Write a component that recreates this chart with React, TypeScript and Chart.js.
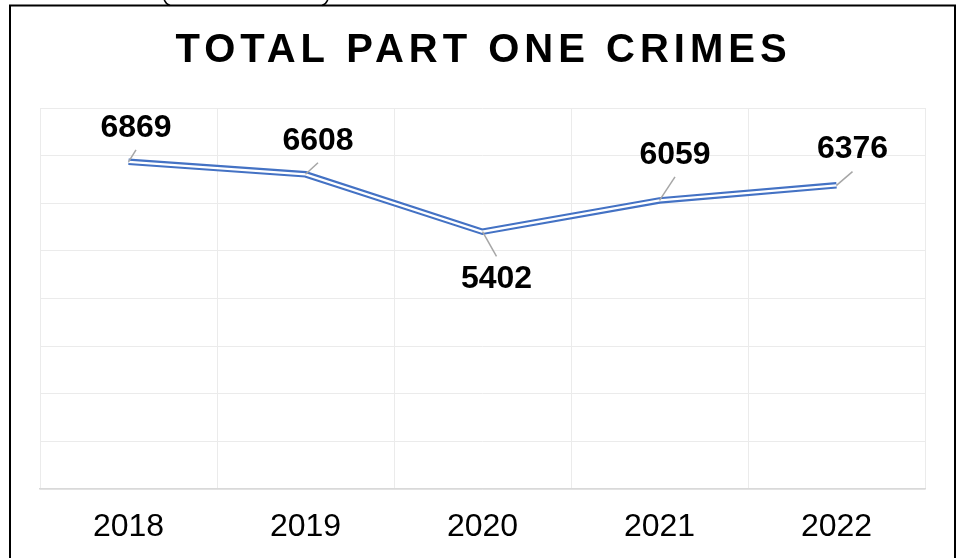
import React, { useEffect, useRef } from "react";
import { Chart, registerables } from "chart.js";

Chart.register(...registerables);

const TITLE = "TOTAL PART ONE CRIMES";
const YEARS = ["2018", "2019", "2020", "2021", "2022"];
const CRIMES = [6869, 6608, 5402, 6059, 6376];
const Y_MIN = 0;
const Y_MAX = 8000;
const Y_STEP = 1000;
// label centre offset from its point (dx, dy), as placed in the original
const LABEL_DX = [7.5, 12.5, 14, 15.5, 16];
const LABEL_DY = [-34, -33.5, 47.7, -45.5, -35.7];

const FONT = "'Liberation Sans', Arial, sans-serif";
const BLUE = "#4472C4";

const framePlugin = {
  id: "frame",
  beforeDraw(chart: any) {
    const ctx = chart.ctx;
    ctx.save();
    ctx.fillStyle = "#ffffff";
    ctx.fillRect(0, 0, chart.width, chart.height);
    ctx.strokeStyle = "#000000";
    ctx.lineWidth = 2;
    ctx.beginPath();
    ctx.moveTo(10, chart.height + 5);
    ctx.lineTo(10, 5.5);
    ctx.lineTo(955, 5.5);
    ctx.lineTo(955, chart.height + 5);
    ctx.stroke();
    // bottom of a rounded shape sitting above the frame
    ctx.lineWidth = 1.5;
    ctx.beginPath();
    ctx.moveTo(164, -1);
    ctx.quadraticCurveTo(165.5, 4, 170, 5.5);
    ctx.moveTo(328, -1);
    ctx.quadraticCurveTo(326.5, 4, 322, 5.5);
    ctx.stroke();
    // title
    ctx.fillStyle = "#000000";
    ctx.font = `bold 40px ${FONT}`;
    (ctx as any).letterSpacing = "5px";
    ctx.textAlign = "center";
    ctx.textBaseline = "middle";
    ctx.fillText(TITLE, 483.5, 51);
    ctx.restore();
  },
};

const labelPlugin = {
  id: "leaderLabels",
  afterDatasetsDraw(chart: any) {
    const ctx = chart.ctx;
    const meta = chart.getDatasetMeta(0);
    const data = chart.data.datasets[0].data as number[];
    ctx.save();
    meta.data.forEach((pt: any, i: number) => {
      const lx = pt.x + LABEL_DX[i];
      const ly = pt.y + LABEL_DY[i];
      const endY = LABEL_DY[i] < 0 ? ly + 22 : ly - 23;
      ctx.strokeStyle = "#a6a6a6";
      ctx.lineWidth = 1.5;
      ctx.beginPath();
      ctx.moveTo(pt.x, pt.y);
      ctx.lineTo(lx, endY);
      ctx.stroke();
      ctx.fillStyle = "#000000";
      ctx.font = `bold 32px ${FONT}`;
      ctx.textAlign = "center";
      ctx.textBaseline = "middle";
      ctx.fillText(String(data[i]), lx, ly);
    });
    ctx.restore();
  },
};

export default function App() {
  const ref = useRef<HTMLCanvasElement | null>(null);
  useEffect(() => {
    if (!ref.current) return;
    const chart = new Chart(ref.current, {
      type: "line",
      data: {
        labels: YEARS,
        datasets: [
          {
            label: "Total Part One Crimes",
            data: CRIMES,
            borderColor: BLUE,
            borderWidth: 6.5,
            pointRadius: 0,
            tension: 0,
            order: 1,
          },
          {
            label: "inner",
            data: CRIMES,
            borderColor: "#ffffff",
            borderWidth: 2.3,
            pointRadius: 0,
            tension: 0,
            order: 0,
          },
        ],
      },
      options: {
        animation: false,
        responsive: true,
        maintainAspectRatio: false,
        layout: { padding: { left: 40, right: 32, top: 108, bottom: 0 } },
        plugins: {
          legend: { display: false },
          tooltip: { enabled: false },
          title: { display: false },
        },
        scales: {
          x: {
            offset: true,
            grid: { offset: true, color: "#ebebeb", lineWidth: 1, drawTicks: false },
            border: { display: true, color: "#d9d9d9", width: 1.5 },
            ticks: {
              color: "#000000",
              font: { family: FONT, size: 32 },
              padding: 18.5,
              maxRotation: 0,
              autoSkip: false,
            },
            afterFit: (scale: any) => {
              scale.height = 69;
            },
          },
          y: {
            min: Y_MIN,
            max: Y_MAX,
            grid: { color: "#ebebeb", lineWidth: 1, drawTicks: false },
            border: { display: false },
            ticks: { display: false, stepSize: Y_STEP },
            afterFit: (scale: any) => {
              scale.width = 0;
            },
          },
        },
      },
      plugins: [framePlugin, labelPlugin],
    });
    return () => chart.destroy();
  }, []);
  return (
    <div style={{ position: "fixed", left: 0, top: 0, width: 957, height: 558, background: "#fff" }}>
      <canvas ref={ref} />
    </div>
  );
}
